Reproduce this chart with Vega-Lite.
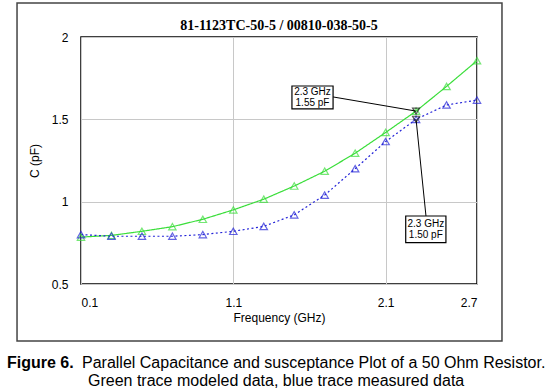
{
  "$schema": "https://vega.github.io/schema/vega-lite/v6.json",
  "autosize": "none",
  "width": 396,
  "height": 247,
  "padding": {"left": 81, "top": 37, "right": 71, "bottom": 106},
  "background": "white",
  "config": {
    "view": {"stroke": "black", "strokeWidth": 1.5},
    "font": "Liberation Sans"
  },
  "datasets": {
    "series": [
      {"f": 0.1, "c": 0.785, "s": "Modeled"},
      {"f": 0.3, "c": 0.795, "s": "Modeled"},
      {"f": 0.5, "c": 0.82, "s": "Modeled"},
      {"f": 0.7, "c": 0.848, "s": "Modeled"},
      {"f": 0.9, "c": 0.893, "s": "Modeled"},
      {"f": 1.1, "c": 0.95, "s": "Modeled"},
      {"f": 1.3, "c": 1.015, "s": "Modeled"},
      {"f": 1.5, "c": 1.095, "s": "Modeled"},
      {"f": 1.7, "c": 1.185, "s": "Modeled"},
      {"f": 1.9, "c": 1.294, "s": "Modeled"},
      {"f": 2.1, "c": 1.42, "s": "Modeled"},
      {"f": 2.3, "c": 1.55, "s": "Modeled"},
      {"f": 2.5, "c": 1.70, "s": "Modeled"},
      {"f": 2.7, "c": 1.856, "s": "Modeled"},
      {"f": 0.1, "c": 0.80, "s": "Measured"},
      {"f": 0.3, "c": 0.79, "s": "Measured"},
      {"f": 0.5, "c": 0.79, "s": "Measured"},
      {"f": 0.7, "c": 0.79, "s": "Measured"},
      {"f": 0.9, "c": 0.80, "s": "Measured"},
      {"f": 1.1, "c": 0.82, "s": "Measured"},
      {"f": 1.3, "c": 0.85, "s": "Measured"},
      {"f": 1.5, "c": 0.92, "s": "Measured"},
      {"f": 1.7, "c": 1.04, "s": "Measured"},
      {"f": 1.9, "c": 1.20, "s": "Measured"},
      {"f": 2.1, "c": 1.365, "s": "Measured"},
      {"f": 2.3, "c": 1.50, "s": "Measured"},
      {"f": 2.5, "c": 1.587, "s": "Measured"},
      {"f": 2.7, "c": 1.617, "s": "Measured"}
    ],
    "marked": [
      {"f": 2.3, "c": 1.55},
      {"f": 2.3, "c": 1.50}
    ],
    "frame": [
      {"f": -0.320, "f2": 2.864, "c": 2.2065, "c2": 0.154}
    ],
    "boxes": [
      {"f": 1.485, "f2": 1.755, "c": 1.7024, "c2": 1.563},
      {"f": 2.232, "f2": 2.496, "c": 0.913, "c2": 0.751}
    ],
    "leaders": [
      {"f": 1.755, "c": 1.636, "f2": 2.3, "c2": 1.55},
      {"f": 2.3, "c": 1.50, "f2": 2.365, "c2": 0.913}
    ],
    "labels": [
      {"f": 1.62, "c": 1.667, "t": "2.3 GHz"},
      {"f": 1.62, "c": 1.600, "t": "1.55 pF"},
      {"f": 2.364, "c": 0.867, "t": "2.3 GHz"},
      {"f": 2.364, "c": 0.800, "t": "1.50 pF"}
    ],
    "heading": [
      {"f": 1.4, "c": 2.067, "t": "81-1123TC-50-5 / 00810-038-50-5"}
    ],
    "captionBold": [
      {"f": -0.386, "c": 0.020, "t": "Figure 6."}
    ],
    "caption": [
      {"f": 0.1066, "c": 0.020, "t": "Parallel Capacitance and susceptance Plot of a 50 Ohm Resistor."},
      {"f": 0.146, "c": -0.089, "t": "Green trace modeled data, blue trace measured data"}
    ]
  },
  "encoding": {
    "x": {
      "field": "f",
      "type": "quantitative",
      "scale": {"domain": [0.1, 2.7], "nice": false, "zero": false},
      "axis": {
        "title": "Frequency (GHz)",
        "values": [0.1, 1.1, 2.1, 2.7],
        "format": ".1f",
        "domain": false,
        "ticks": false,
        "grid": true,
        "gridColor": "#c8c8c8",
        "labelFontSize": 12,
        "labelColor": "black",
        "labelPadding": 13,
        "labelFont": "Liberation Sans",
        "titleFont": "Liberation Sans",
        "titleFontSize": 12,
        "titleFontWeight": "normal",
        "titleColor": "black",
        "titlePadding": 4
      }
    },
    "y": {
      "field": "c",
      "type": "quantitative",
      "scale": {"domain": [0.5, 2], "nice": false, "zero": false},
      "axis": {
        "title": "C (pF)",
        "values": [0.5, 1, 1.5, 2],
        "format": "~g",
        "domain": false,
        "ticks": false,
        "grid": true,
        "gridColor": "#c8c8c8",
        "labelFontSize": 12,
        "labelColor": "black",
        "labelPadding": 13,
        "labelBaseline": "top",
        "labelOffset": -5,
        "labelFont": "Liberation Sans",
        "titleFont": "Liberation Sans",
        "titleFontSize": 12,
        "titleFontWeight": "normal",
        "titleColor": "black",
        "titlePadding": 10
      }
    }
  },
  "layer": [
    {
      "data": {"name": "frame"},
      "mark": {"type": "rect", "fill": null, "stroke": "#444444", "strokeWidth": 1.5, "clip": false},
      "encoding": {"x2": {"field": "f2"}, "y2": {"field": "c2"}}
    },
    {
      "data": {"name": "series"},
      "mark": {"type": "line", "strokeWidth": 1.2},
      "encoding": {
        "color": {"field": "s", "type": "nominal", "scale": {"domain": ["Modeled", "Measured"], "range": ["#3ade3a", "#2323d8"]}, "legend": null},
        "strokeDash": {"field": "s", "type": "nominal", "scale": {"domain": ["Modeled", "Measured"], "range": [[1, 0], [2, 2.5]]}, "legend": null}
      }
    },
    {
      "data": {"name": "series"},
      "mark": {"type": "point", "shape": "triangle-up", "filled": false, "size": 55, "strokeWidth": 1.2},
      "encoding": {
        "color": {"field": "s", "type": "nominal", "scale": {"domain": ["Modeled", "Measured"], "range": ["#3ade3a", "#2323d8"]}, "legend": null}
      }
    },
    {
      "data": {"name": "marked"},
      "mark": {"type": "point", "shape": "triangle-down", "filled": false, "size": 50, "strokeWidth": 1.2, "color": "#111111"}
    },
    {
      "data": {"name": "leaders"},
      "mark": {"type": "rule", "color": "black", "strokeWidth": 1},
      "encoding": {"x2": {"field": "f2"}, "y2": {"field": "c2"}}
    },
    {
      "data": {"name": "boxes"},
      "mark": {"type": "rect", "fill": "white", "stroke": "black", "strokeWidth": 1.2},
      "encoding": {"x2": {"field": "f2"}, "y2": {"field": "c2"}}
    },
    {
      "data": {"name": "labels"},
      "mark": {"type": "text", "fontSize": 10, "align": "center", "baseline": "middle", "color": "black", "font": "Liberation Sans"},
      "encoding": {"text": {"field": "t"}}
    },
    {
      "data": {"name": "heading"},
      "mark": {"type": "text", "fontSize": 14, "fontWeight": "bold", "align": "center", "baseline": "middle", "color": "black", "font": "Liberation Serif", "clip": false},
      "encoding": {"text": {"field": "t"}}
    },
    {
      "data": {"name": "captionBold"},
      "mark": {"type": "text", "fontSize": 16, "fontWeight": "bold", "align": "left", "baseline": "middle", "color": "black", "font": "Liberation Sans", "clip": false},
      "encoding": {"text": {"field": "t"}}
    },
    {
      "data": {"name": "caption"},
      "mark": {"type": "text", "fontSize": 16, "align": "left", "baseline": "middle", "color": "black", "font": "Liberation Sans", "clip": false},
      "encoding": {"text": {"field": "t"}}
    }
  ]
}
